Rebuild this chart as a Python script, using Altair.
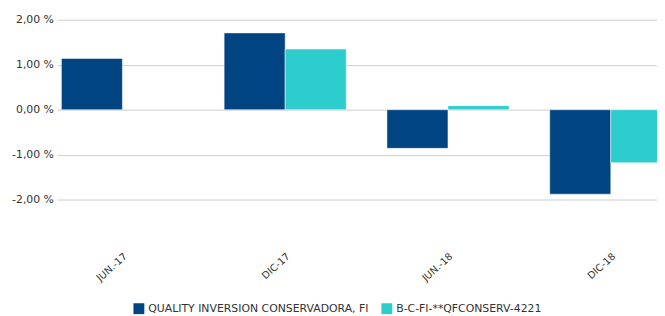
import altair as alt
import pandas as pd

categories = ["JUN.-17", "DIC-17", "JUN.-18", "DIC-18"]
series = ["QUALITY INVERSION CONSERVADORA, FI", "B-C-FI-**QFCONSERV-4221"]
fund_values = [1.14, 1.71, -0.86, -1.88]
bench_values = [None, 1.35, 0.09, -1.18]
y_ticks = [-2, -1, 0, 1, 2]
colors = ["#004481", "#2DCCCD"]

rows = []
for c, v in zip(categories, fund_values):
    if v is not None:
        rows.append({"cat": c, "serie": series[0], "val": v})
for c, v in zip(categories, bench_values):
    if v is not None:
        rows.append({"cat": c, "serie": series[1], "val": v})
df = pd.DataFrame(rows)

font = "DejaVu Sans"

chart = alt.Chart(df).mark_bar(
    clip=True, stroke="#ffffff", strokeWidth=1, strokeOpacity=0.5
).encode(
    x=alt.X("cat:N", sort=categories, title=None,
            scale=alt.Scale(paddingInner=0.25, paddingOuter=0, range=[0, 618]),
            axis=alt.Axis(labelAngle=-42, labelAlign="right", labelBaseline="top",
                          ticks=False, domain=False, labelPadding=11,
                          labelFont=font, labelFontSize=10, labelColor="#333333")),
    xOffset=alt.XOffset("serie:N", sort=series, scale=alt.Scale(paddingInner=0, paddingOuter=0)),
    y=alt.Y("val:Q", title=None,
            scale=alt.Scale(domain=[-2.9, 2.2], nice=False, zero=False),
            axis=alt.Axis(values=y_ticks, domain=False, tickSize=4, tickColor="#cccccc",
                          gridColor="#cccccc", gridWidth=1, labelPadding=4,
                          labelFont=font, labelFontSize=11, labelColor="#333333",
                          labelExpr="replace(replace(format(datum.value, '.2f'), '.', ','), '\u2212', '-') + ' %'")),
    color=alt.Color("serie:N", sort=series, title=None,
                    scale=alt.Scale(domain=series, range=colors),
                    legend=alt.Legend(orient="none", legendX=73, legendY=296, direction="horizontal",
                                      symbolType="square", symbolSize=121, symbolStrokeWidth=0,
                                      labelFont=font, labelFontSize=11, labelColor="#333333",
                                      labelLimit=400, columnPadding=12, symbolOpacity=1)),
).properties(
    width=603, height=232,
    autosize=alt.AutoSizeParams(type="none"),
    padding={"left": 54, "top": 1, "right": 0, "bottom": 75},
).configure_view(stroke=None)

chart.save("out.html", embed_options={"renderer": "svg", "actions": False})
